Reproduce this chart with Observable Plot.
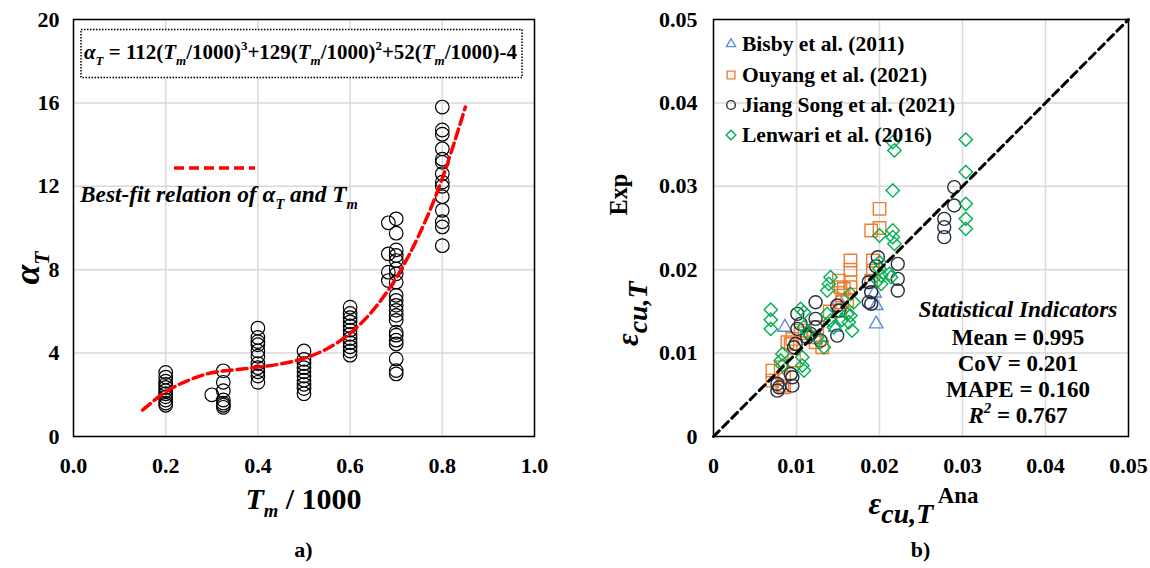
<!DOCTYPE html>
<html>
<head>
<meta charset="utf-8">
<script src="https://cdn.jsdelivr.net/npm/d3@7"></script>
<script src="https://cdn.jsdelivr.net/npm/@observablehq/plot@0.6"></script>
<style>
  html, body { margin: 0; padding: 0; background: #fff; }
  #wrap { position: relative; width: 1150px; height: 568px; display: flex; background: #fff; overflow: hidden; }
  #wrap svg { display: block; }
  #wrap svg g[aria-label$="tick label"] text { font-size: 22px; font-weight: bold; font-family: 'Liberation Serif', 'Times New Roman', serif; }
  text { white-space: pre; }
</style>
</head>
<body>
<div id="wrap"></div>
<script>
// ---------- Panel a) data ----------
const tmTicks = [0, 0.2, 0.4, 0.6, 0.8, 1.0];
const alphaTicks = [0, 4, 8, 12, 16, 20];
const tmGroups = [0.2, 0.3, 0.325, 0.4, 0.5, 0.6, 0.683, 0.7, 0.8];
const alphaByGroup = [
  [3.07, 2.85, 2.65, 2.5, 2.35, 2.2, 2.05, 1.9, 1.75, 1.6, 1.5],
  [2.0],
  [3.15, 2.6, 2.2, 1.75, 1.6, 1.5, 1.4],
  [5.2, 4.75, 4.55, 4.4, 4.1, 3.85, 3.5, 3.3, 3.1, 2.9, 2.6],
  [4.1, 3.7, 3.5, 3.3, 3.1, 2.9, 2.7, 2.5, 2.3, 2.05],
  [6.2, 5.9, 5.7, 5.5, 5.3, 5.1, 4.9, 4.7, 4.5, 4.3, 4.1, 3.9],
  [10.25, 8.76, 7.88, 7.48],
  [10.44, 9.75, 8.95, 8.68, 8.44, 8.04, 7.8, 7.4, 6.77, 6.53, 6.29, 6.05, 5.81, 5.57, 5.0, 4.86, 4.62, 4.44, 3.72, 3.16, 3.0],
  [15.8, 14.7, 14.5, 13.8, 13.3, 13.15, 12.6, 12.2, 12.0, 11.5, 10.85, 10.3, 10.05, 9.15]
];
// best-fit curve
const fitTm = [0.15, 0.20, 0.25, 0.30, 0.35, 0.40, 0.45, 0.50, 0.55, 0.60, 0.65, 0.70, 0.75, 0.80, 0.85];
const fitAlpha = [1.27, 2.14, 2.70, 3.06, 3.20, 3.33, 3.48, 3.75, 4.21, 4.95, 6.06, 7.61, 9.69, 12.38, 15.8];

// ---------- Panel b) data  [Ana, Exp] ----------
const strainTicks = [0, 0.01, 0.02, 0.03, 0.04, 0.05];
const diagonal = [0, 0.05];
const seriesNames = ["Bisby et al. (2011)", "Ouyang et al. (2021)", "Jiang Song et al. (2021)", "Lenwari et al. (2016)"];
const seriesColors = ["#5b8fd4", "#ed7d31", "#262e3d", "#00b050"];
const seriesSymbols = ["triangle2", "square", "circle", "diamond2"];
const bisby = [[0.0086,0.0131],[0.0147,0.0131],[0.0151,0.0163],[0.0190,0.0183],[0.0194,0.0172],[0.0196,0.0157],[0.0196,0.0135]];
const ouyang = [[0.0200,0.0273],[0.0190,0.0247],[0.0200,0.0250],[0.0165,0.0211],[0.0165,0.0200],[0.0192,0.0211],[0.0192,0.0199],
  [0.0165,0.0185],[0.0165,0.0179],[0.0190,0.0187],[0.0161,0.0163],[0.0157,0.0177],[0.0151,0.0187],[0.0153,0.0179],[0.0155,0.0169],
  [0.0155,0.0161],[0.0153,0.0151],[0.0125,0.0131],[0.0131,0.0107],[0.0121,0.0119],[0.0123,0.0113],[0.0095,0.0117],[0.0093,0.0111],
  [0.0089,0.0113],[0.0105,0.0127],[0.0071,0.0079],[0.0071,0.0067],[0.0083,0.0061],[0.0085,0.0071],[0.0085,0.0059],[0.0081,0.0083],
  [0.0097,0.0091],[0.0110,0.0124],[0.0140,0.0150]];
const jiang = [[0.0290,0.0299],[0.0290,0.0277],[0.0278,0.0261],[0.0278,0.0251],[0.0278,0.0239],[0.0222,0.0207],[0.0222,0.0189],
  [0.0222,0.0175],[0.0198,0.0215],[0.0196,0.0204],[0.0187,0.0185],[0.0190,0.0173],[0.0187,0.0161],[0.0149,0.0157],[0.0151,0.0151],
  [0.0149,0.0121],[0.0123,0.0161],[0.0123,0.0141],[0.0123,0.0131],[0.0101,0.0147],[0.0105,0.0135],[0.0101,0.0129],[0.0099,0.0111],
  [0.0097,0.0107],[0.0093,0.0075],[0.0095,0.0071],[0.0077,0.0063],[0.0077,0.0055],[0.0079,0.0059],[0.0095,0.0061],[0.0113,0.0119],
  [0.0117,0.0123],[0.0129,0.0115],[0.0190,0.0159]];
const lenwari = [[0.0304,0.0356],[0.0216,0.0353],[0.0218,0.0343],[0.0304,0.0317],[0.0216,0.0295],[0.0304,0.0279],[0.0304,0.0261],
  [0.0304,0.0249],[0.0216,0.0247],[0.0216,0.0239],[0.0218,0.0231],[0.0200,0.0241],[0.0200,0.0209],[0.0200,0.0201],[0.0202,0.0193],
  [0.0212,0.0195],[0.0214,0.0191],[0.0198,0.0187],[0.0202,0.0183],[0.0165,0.0171],[0.0161,0.0147],[0.0141,0.0191],[0.0139,0.0183],
  [0.0137,0.0175],[0.0165,0.0145],[0.0163,0.0137],[0.0167,0.0127],[0.0137,0.0147],[0.0141,0.0139],[0.0145,0.0131],[0.0105,0.0153],
  [0.0109,0.0149],[0.0109,0.0131],[0.0113,0.0125],[0.0125,0.0119],[0.0133,0.0107],[0.0069,0.0152],[0.0069,0.0140],[0.0069,0.0129],
  [0.0083,0.0099],[0.0081,0.0091],[0.0083,0.0085],[0.0107,0.0095],[0.0107,0.0085],[0.0109,0.0079],[0.0169,0.0161],[0.0155,0.0140]];
const statLines = ["Mean = 0.995", "CoV = 0.201", "MAPE = 0.160"];
const r2Value = "0.767";

// ---------- helpers ----------
const serif = "'Liberation Serif', 'Times New Roman', serif";
const W = 575, H = 568;

function rich(parent, parts, o) {
  const size = o.size;
  const t = parent.append("text")
    .attr("x", o.x).attr("y", o.y)
    .attr("text-anchor", o.anchor || "start")
    .attr("font-family", serif).attr("font-weight", "bold")
    .attr("fill", "black").attr("font-size", size)
    .style("white-space", "pre");
  if (o.italic) t.attr("font-style", "italic");
  if (o.transform) t.attr("transform", o.transform);
  let cur = 0;
  for (const p of parts) {
    const fs = (p.sub || p.sup) ? size * (p.scale || 0.62) : size * (p.scale || 1);
    const target = p.sub ? size * 0.28 : p.sup ? -size * (p.shift || 0.42) : 0;
    const ts = t.append("tspan").text(p.t).attr("font-size", fs);
    if (target - cur !== 0) ts.attr("dy", target - cur);
    if (p.dx) ts.attr("dx", p.dx);
    if (p.italic) ts.attr("font-style", "italic");
    if (p.normal) ts.attr("font-style", "normal");
    cur = target;
  }
  return t;
}
function fitRich(parent, parts, o, width) {
  let t = rich(parent, parts, o);
  const w = t.node().getComputedTextLength();
  if (w > 0) {
    t.remove();
    t = rich(parent, parts, {...o, size: o.size * width / w});
  }
  return t;
}

const wrap = document.getElementById("wrap");
const baseStyle = {fontFamily: serif, fontSize: "22px", fontWeight: "bold", color: "black", background: "white", overflow: "visible"};

// ---------- Panel a) ----------
const alphaPts = tmGroups.flatMap((t, i) => alphaByGroup[i].map(a => ({t, a})));
const fitPts = fitTm.map((t, i) => ({t, a: fitAlpha[i]}));

const left = Plot.plot({
  width: W, height: H,
  marginLeft: 73, marginRight: 41, marginTop: 19, marginBottom: 132,
  style: baseStyle,
  x: {domain: [0, 1], ticks: tmTicks, tickFormat: d3.format(".1f"), tickSize: 0, tickPadding: 21, label: null},
  y: {domain: [0, 20], ticks: alphaTicks, tickFormat: d => String(d), tickSize: 0, tickPadding: 14, label: null},
  marks: [
    Plot.ruleX(tmTicks, {x: d => d, stroke: "#d9d9d9", strokeWidth: 1.5}),
    Plot.ruleY(alphaTicks, {y: d => d, stroke: "#d9d9d9", strokeWidth: 1.5}),
    Plot.dot(alphaPts, {x: "t", y: "a", r: 6.8, stroke: "black", strokeWidth: 1.2, fill: "none"}),
    Plot.line(fitPts, {x: "t", y: "a", stroke: "#ff0000", strokeWidth: 3.5, strokeDasharray: "10,5", curve: "natural"}),
    Plot.frame({stroke: "black", strokeWidth: 1.5})
  ]
});
wrap.appendChild(left);

// ---------- Panel b) ----------
const seriesData = [bisby, ouyang, jiang, lenwari];
const seriesR = [6.5, 7, 6.5, 6];
const right = Plot.plot({
  width: W, height: H,
  marginLeft: 138, marginRight: 22, marginTop: 19, marginBottom: 132,
  style: baseStyle,
  x: {domain: [0, 0.05], ticks: strainTicks, tickFormat: d => d === 0 ? "0" : d3.format(".2f")(d), tickSize: 0, tickPadding: 21, label: null},
  y: {domain: [0, 0.05], ticks: strainTicks, tickFormat: d => d === 0 ? "0" : d3.format(".2f")(d), tickSize: 0, tickPadding: 16, label: null},
  marks: [
    Plot.ruleX(strainTicks, {x: d => d, stroke: "#d9d9d9", strokeWidth: 1.5}),
    Plot.ruleY(strainTicks, {y: d => d, stroke: "#d9d9d9", strokeWidth: 1.5}),
    ...seriesData.map((data, i) => Plot.dot(data, {
      x: d => d[0], y: d => d[1], symbol: seriesSymbols[i], r: seriesR[i],
      stroke: seriesColors[i], strokeWidth: 1.4, fill: "none"
    })),
    Plot.line(diagonal, {x: d => d, y: d => d, stroke: "black", strokeWidth: 3, strokeDasharray: "8,5"}),
    Plot.frame({stroke: "black", strokeWidth: 1.5})
  ]
});
wrap.appendChild(right);

// ---------- annotations, panel a) ----------
const L = d3.select(left);
L.append("rect").attr("x", 81).attr("y", 29.5).attr("width", 441).attr("height", 48)
  .attr("fill", "white").attr("stroke", "black").attr("stroke-width", 1.5).attr("stroke-dasharray", "1.5,1.5");
const Tm = [{t: "T", italic: true}, {t: "m", italic: true, sub: true}];
fitRich(L, [
  {t: "α", italic: true}, {t: "T", italic: true, sub: true}, {t: " = 112("}, ...Tm, {t: "/1000)"}, {t: "3", sup: true},
  {t: "+129("}, ...Tm, {t: "/1000)"}, {t: "2", sup: true},
  {t: "+52("}, ...Tm, {t: "/1000)-4"}
], {x: 84, y: 59, size: 19}, 433);

L.append("line").attr("x1", 174).attr("x2", 255).attr("y1", 168).attr("y2", 168)
  .attr("stroke", "#ff0000").attr("stroke-width", 3.5).attr("stroke-dasharray", "10,5");
fitRich(L, [
  {t: "Best-fit relation of "}, {t: "α"}, {t: "T", sub: true}, {t: " and "}, {t: "T"}, {t: "m", sub: true}
], {x: 80, y: 202, size: 21, italic: true}, 278);

rich(L, [{t: "α", italic: true}, {t: "T", italic: true, sub: true, scale: 0.6}],
  {x: 0, y: 0, size: 36, anchor: "middle", transform: "translate(39,268) rotate(-90)"});
rich(L, [{t: "T", italic: true}, {t: "m", italic: true, sub: true, scale: 0.62}, {t: " / 1000"}],
  {x: 303.5, y: 509, size: 30, anchor: "middle"});
rich(L, [{t: "a)"}], {x: 303.5, y: 557, size: 22, anchor: "middle"});

// ---------- annotations, panel b) ----------
const R = d3.select(right);
const legendRows = [44, 75, 105, 135];
seriesNames.forEach((name, i) => {
  const sym = {triangle2: d3.symbolTriangle2, square: d3.symbolSquare, circle: d3.symbolCircle, diamond2: d3.symbolDiamond2}[seriesSymbols[i]];
  R.append("path").attr("d", d3.symbol(sym, 60)())
    .attr("transform", `translate(156,${legendRows[i]})`)
    .attr("fill", "none").attr("stroke", seriesColors[i]).attr("stroke-width", 1.4);
  rich(R, [{t: name}], {x: 167, y: legendRows[i] + 7, size: 21.5});
});

fitRich(R, [{t: "Statistical Indicators"}], {x: 443, y: 317, size: 22, italic: true, anchor: "middle"}, 199);
statLines.forEach((s, i) => rich(R, [{t: s}], {x: 443, y: 345 + i * 26, size: 23, anchor: "middle"}));
rich(R, [{t: "R", italic: true}, {t: "2", sup: true, scale: 0.65, italic: true}, {t: " = " + r2Value}],
  {x: 443, y: 423, size: 23, anchor: "middle"});

rich(R, [{t: "ε", italic: true}, {t: "cu,T", italic: true, sub: true, scale: 0.9}, {t: "Exp", sup: true, scale: 0.78, dx: 66, shift: 0.36}],
  {x: 0, y: 0, size: 31, transform: "translate(63,346) rotate(-90)"});
rich(R, [{t: "ε", italic: true}, {t: "cu,T", italic: true, sub: true, scale: 0.9}, {t: " Ana", sup: true, scale: 0.74, shift: 0.34}],
  {x: 348.5, y: 514, size: 31, anchor: "middle"});
rich(R, [{t: "b)"}], {x: 345.5, y: 557, size: 22, anchor: "middle"});
</script>
</body>
</html>
